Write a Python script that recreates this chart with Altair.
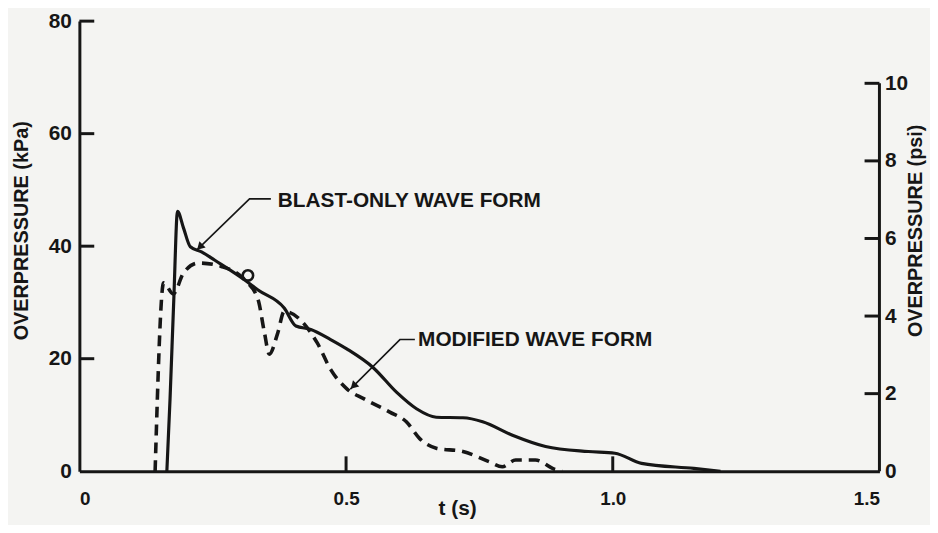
import altair as alt
import pandas as pd

# ---- data ----
blast_t = [0.164, 0.170, 0.177, 0.184, 0.195, 0.208, 0.229, 0.254, 0.310, 0.335, 0.384, 0.406,
           0.434, 0.471, 0.502, 0.551, 0.595, 0.632, 0.669, 0.719, 0.756, 0.812, 0.874, 0.954,
           1.004, 1.054, 1.152, 1.202]
blast_kpa = [0, 12.9, 30.5, 46.2, 43.3, 39.9, 39.0, 37.5, 34.0, 32.2, 29.0, 25.8,
             25.2, 23.4, 21.7, 18.4, 14.0, 11.1, 9.6, 9.5, 8.8, 6.4, 4.4, 3.5,
             3.2, 1.4, 0.5, 0]

mod_t = [0.142, 0.158, 0.176, 0.195, 0.223, 0.254, 0.266, 0.310, 0.335, 0.347, 0.356, 0.372,
         0.384, 0.446, 0.471, 0.502, 0.533, 0.582, 0.613, 0.638, 0.669, 0.719, 0.768, 0.793,
         0.818, 0.855, 0.892, 0.905]
mod_kpa = [0, 33.5, 31.5, 35.2, 37.0, 36.7, 36.4, 34.0, 30.5, 24.6, 20.8, 24.6,
           28.4, 22.8, 18.1, 14.6, 12.9, 10.5, 8.8, 5.8, 4.1, 3.5, 1.7, 0.8,
           2.0, 2.0, 0.3, 0]

blob_t = [0.316]
blob_kpa = [34.8]

labels = ["BLAST-ONLY WAVE FORM", "MODIFIED WAVE FORM"]
label_t = [0.372, 0.635]
label_kpa = [48.1, 23.3]
arrow_grp = ["blast", "blast", "blast", "mod", "mod", "mod"]
arrow_t = [0.220, 0.319, 0.359, 0.508, 0.601, 0.629]
arrow_kpa = [39.3, 48.4, 48.4, 14.6, 23.4, 23.4]
head_t = [0.220, 0.508]
head_kpa = [39.3, 14.6]

kpa_ticks = [0, 20, 40, 60, 80]
kpa_inner_ticks = [20, 40, 60, 80]
psi_ticks = [0, 2, 4, 6, 8, 10]
psi_inner_ticks = [2, 4, 6, 8, 10]
psi_axis_span = [0, 10]
t_ticks = [0, 0.5, 1.0, 1.5]
t_inner_ticks = [0.5, 1.0]
KPA_PER_PSI = 6.894757

# ---- styling ----
W, H = 807, 454
INK = "#161616"
FONT = "Liberation Sans"

blast_df = pd.DataFrame({"t": blast_t, "kpa": blast_kpa})
mod_df = pd.DataFrame({"t": mod_t, "kpa": mod_kpa})
blob_df = pd.DataFrame({"t": blob_t, "kpa": blob_kpa})
label_df = pd.DataFrame({"t": label_t, "kpa": label_kpa, "label": labels})
arrow_df = pd.DataFrame({"t": arrow_t, "kpa": arrow_kpa, "grp": arrow_grp,
                         "order": list(range(len(arrow_t)))})
head_df = pd.DataFrame({"t": head_t, "kpa": head_kpa})
kpa_tick_df = pd.DataFrame({"kpa": kpa_inner_ticks})
t_tick_df = pd.DataFrame({"t": t_inner_ticks})
psi_tick_df = pd.DataFrame({"psi": psi_inner_ticks})
psi_span_df = pd.DataFrame({"lo": [psi_axis_span[0]], "hi": [psi_axis_span[1]]})

xscale = alt.Scale(domain=[0, 1.5], nice=False, zero=False)
yscale = alt.Scale(domain=[0, 80], nice=False)
psiscale = alt.Scale(domain=[0, 80 / KPA_PER_PSI], nice=False)

xaxis = alt.Axis(values=t_ticks, labelExpr="datum.value == 0 ? '0' : format(datum.value, '.1f')",
                 title="t (s)", ticks=False, grid=False, domainWidth=3, domainColor=INK,
                 labelFont=FONT, labelFontSize=19, labelFontWeight="bold", labelColor=INK,
                 labelPadding=19, titleFont=FONT, titleFontSize=21, titleFontWeight="bold",
                 titleColor=INK, titleX=381, titleY=38, titleBaseline="middle")
yaxis = alt.Axis(values=kpa_ticks, title="OVERPRESSURE (kPa)", ticks=False, grid=False,
                 domainWidth=3, domainColor=INK, labelFont=FONT, labelFontSize=21,
                 labelFontWeight="bold", labelColor=INK, labelPadding=8,
                 titleFont=FONT, titleFontSize=20, titleFontWeight="bold", titleColor=INK,
                 titleX=-58, titleY=211, titleAngle=270, titleBaseline="middle",
                 titleAlign="center")
psiaxis = alt.Axis(values=psi_ticks, orient="right", title="OVERPRESSURE (psi)", ticks=False,
                   grid=False, domain=False, labelFont=FONT, labelFontSize=21,
                   labelFontWeight="bold", labelColor=INK, labelPadding=5,
                   titleFont=FONT, titleFontSize=20, titleFontWeight="bold", titleColor=INK,
                   titleX=36, titleY=211, titleAngle=270, titleBaseline="middle",
                   titleAlign="center")

X = alt.X("t:Q", scale=xscale, axis=xaxis)
Y = alt.Y("kpa:Q", scale=yscale, axis=yaxis)

solid = alt.Chart(blast_df).mark_line(color=INK, strokeWidth=3.2, interpolate="monotone").encode(
    x=X, y=Y)
dashed = alt.Chart(mod_df).mark_line(color=INK, strokeWidth=3.6, strokeDash=[11, 7],
                                     interpolate="monotone").encode(x=X, y=Y)
blob = alt.Chart(blob_df).mark_point(shape="circle", filled=False, size=110, strokeWidth=2.6,
                                     color=INK, opacity=1).encode(x=X, y=Y)
arrows = alt.Chart(arrow_df).mark_line(color=INK, strokeWidth=1.6).encode(
    x=X, y=Y, detail="grp:N", order="order:Q")
heads = alt.Chart(head_df).mark_point(shape="triangle", filled=True, size=80, angle=225,
                                      color=INK, opacity=1).encode(
    x=X, y=Y, xOffset=alt.value(4), yOffset=alt.value(-4))
texts = alt.Chart(label_df).mark_text(align="left", baseline="middle", font=FONT, fontSize=21,
                                      fontWeight="bold", color=INK).encode(
    x=X, y=Y, text="label:N")
left_ticks = alt.Chart(kpa_tick_df).mark_rule(color=INK, strokeWidth=3).encode(
    y=Y, x=alt.value(0), x2=alt.value(15))
bottom_ticks = alt.Chart(t_tick_df).mark_rule(color=INK, strokeWidth=3).encode(
    x=X, y=alt.value(H), y2=alt.value(H - 15))

left_group = alt.layer(solid, dashed, blob, arrows, heads, texts, left_ticks, bottom_ticks)

right_line = alt.Chart(psi_span_df).mark_rule(color=INK, strokeWidth=3).encode(
    y=alt.Y("lo:Q", scale=psiscale, axis=psiaxis), y2="hi:Q", x=alt.value(W))
right_ticks = alt.Chart(psi_tick_df).mark_rule(color=INK, strokeWidth=3).encode(
    y=alt.Y("psi:Q", scale=psiscale, axis=psiaxis), x=alt.value(W - 15), x2=alt.value(W))
right_group = alt.layer(right_line, right_ticks)

chart = alt.layer(left_group, right_group).resolve_scale(y="independent").properties(
    width=W, height=H, autosize="none",
    padding={"left": 72, "top": 11, "right": 51, "bottom": 52},
    background="#f4f4f2",
).configure_view(stroke=None)

chart.save("out.html", embed_options={"renderer": "svg", "actions": False})
